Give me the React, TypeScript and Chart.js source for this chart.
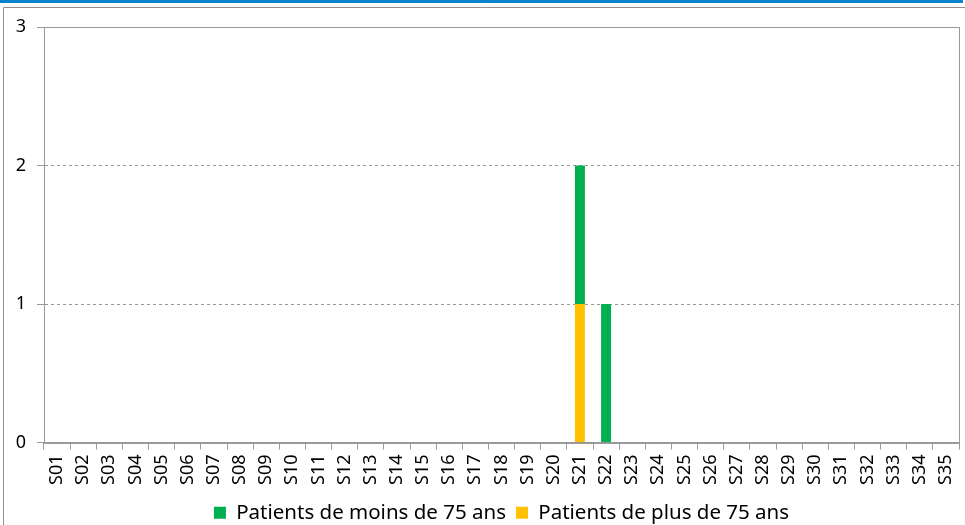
import React, { useEffect, useRef } from "react";
import { Chart, registerables } from "chart.js";

Chart.register(...registerables);

const weeks: string[] = [
  "S01", "S02", "S03", "S04", "S05", "S06", "S07", "S08", "S09", "S10",
  "S11", "S12", "S13", "S14", "S15", "S16", "S17", "S18", "S19", "S20",
  "S21", "S22", "S23", "S24", "S25", "S26", "S27", "S28", "S29", "S30",
  "S31", "S32", "S33", "S34", "S35",
];

// Patients de moins de 75 ans
const under75: number[] = [
  0, 0, 0, 0, 0, 0, 0, 0, 0, 0,
  0, 0, 0, 0, 0, 0, 0, 0, 0, 0,
  1, 1, 0, 0, 0, 0, 0, 0, 0, 0,
  0, 0, 0, 0, 0,
];

// Patients de plus de 75 ans
const over75: number[] = [
  0, 0, 0, 0, 0, 0, 0, 0, 0, 0,
  0, 0, 0, 0, 0, 0, 0, 0, 0, 0,
  1, 0, 0, 0, 0, 0, 0, 0, 0, 0,
  0, 0, 0, 0, 0,
];

const seriesNames: string[] = ["Patients de moins de 75 ans", "Patients de plus de 75 ans"];
const yMin = 0;
const yMax = 3;
const yStep = 1;

const FONT = "'Noto Sans', sans-serif";
const GRID = "#999999";

const framePlugin = {
  id: "frame",
  beforeDraw(chart: any) {
    const ctx = chart.ctx;
    ctx.save();
    ctx.fillStyle = "#ffffff";
    ctx.fillRect(0, 0, chart.width, chart.height);
    ctx.fillStyle = "#0984CC";
    ctx.fillRect(0, 0, 963, 3);
    ctx.strokeStyle = "#8f8f8f";
    ctx.lineWidth = 1;
    ctx.beginPath();
    ctx.moveTo(3.5, chart.height);
    ctx.lineTo(3.5, 7.5);
    ctx.lineTo(chart.width, 7.5);
    ctx.stroke();
    ctx.restore();
  },
  afterDraw(chart: any) {
    const { ctx, chartArea } = chart;
    ctx.save();
    ctx.strokeStyle = GRID;
    ctx.lineWidth = 1;
    ctx.strokeRect(
      Math.round(chartArea.left) + 0.5,
      Math.round(chartArea.top) + 0.5,
      Math.round(chartArea.right - chartArea.left),
      Math.round(chartArea.bottom - chartArea.top)
    );
    ctx.restore();
  },
};

export default function App() {
  const canvasRef = useRef<HTMLCanvasElement | null>(null);

  useEffect(() => {
    const canvas = canvasRef.current;
    if (!canvas) return;
    const chart = new Chart(canvas, {
      type: "bar",
      data: {
        labels: weeks,
        datasets: [
          {
            label: seriesNames[1],
            data: over75,
            backgroundColor: "#FFC000",
            borderWidth: 0,
            barPercentage: 0.38,
            categoryPercentage: 1,
          },
          {
            label: seriesNames[0],
            data: under75,
            backgroundColor: "#00B050",
            borderWidth: 0,
            barPercentage: 0.38,
            categoryPercentage: 1,
          },
        ],
      },
      options: {
        responsive: false,
        animation: false,
        layout: { padding: { left: 0, right: 6, top: 27, bottom: -8 } },
        plugins: {
          tooltip: { enabled: false },
          legend: {
            position: "bottom",
            fullSize: false,
            reverse: true,
            labels: {
              boxWidth: 12,
              boxHeight: 12,
              padding: 10,
              color: "#000000",
              font: { family: FONT, size: 20.5 },
            },
          },
        },
        scales: {
          x: {
            stacked: true,
            offset: true,
            grid: {
              offset: true,
              drawOnChartArea: false,
              drawTicks: true,
              tickLength: 7,
              tickColor: GRID,
            },
            border: { display: true, color: GRID },
            ticks: {
              minRotation: 90,
              maxRotation: 90,
              autoSkip: false,
              padding: 5,
              color: "#000000",
              font: { family: FONT, size: 18 },
            },
            afterFit(scale: any) {
              scale.height = 50;
              scale.paddingLeft = 0;
              scale.paddingRight = 0;
            },
          },
          y: {
            stacked: true,
            min: yMin,
            max: yMax,
            ticks: {
              stepSize: yStep,
              padding: 11,
              color: "#000000",
              font: { family: FONT, size: 18 },
            },
            grid: {
              drawTicks: true,
              tickLength: 7,
              tickColor: GRID,
              color: (c: any) =>
                c.tick && (c.tick.value === yMin || c.tick.value === yMax) ? "rgba(0,0,0,0)" : GRID,
            },
            border: { display: true, color: GRID, dash: [3, 3] },
            afterFit(scale: any) {
              scale.width = 44;
            },
          },
        },
      },
      plugins: [framePlugin],
    });
    return () => chart.destroy();
  }, []);

  return (
    <div style={{ position: "fixed", left: 0, top: 0, width: 965, height: 525, background: "#fff" }}>
      <canvas ref={canvasRef} width={965} height={525} style={{ display: "block" }} />
    </div>
  );
}
